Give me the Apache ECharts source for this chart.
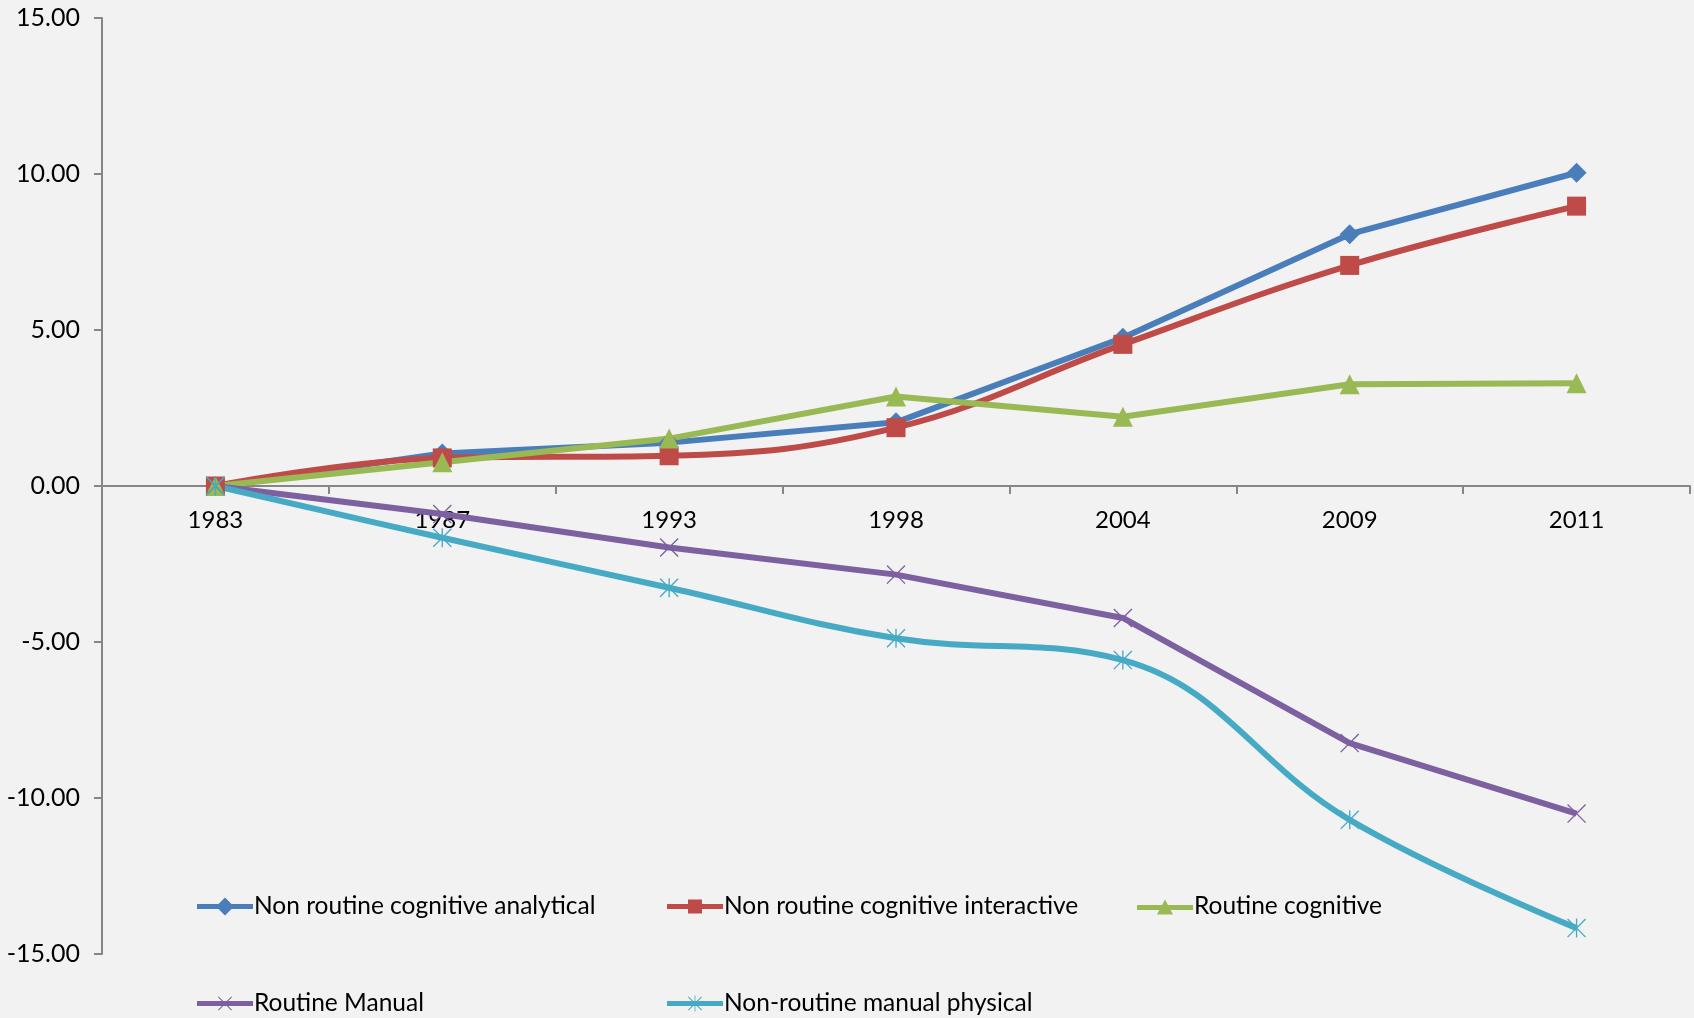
<!DOCTYPE html>
<html>
<head>
<meta charset="utf-8">
<script src="https://cdn.jsdelivr.net/npm/echarts@6/dist/echarts.min.js"></script>
<style>
html,body{margin:0;padding:0;background:#f2f2f2;}
#chart{width:1694px;height:1018px;}
</style>
</head>
<body>
<div id="chart"></div>
<script>
var years = ['1983','1987','1993','1998','2004','2009','2011'];
var seriesNames = ['Non routine cognitive analytical','Non routine cognitive interactive','Routine cognitive','Routine Manual','Non-routine manual physical'];
var analytical = [0, 1.04, 1.39, 2.04, 4.75, 8.07, 10.04];
var interactive = [0, 0.90, 0.97, 1.87, 4.54, 7.07, 8.97];
var routineCognitive = [0, 0.76, 1.52, 2.87, 2.22, 3.26, 3.29];
var routineManual = [0, -0.90, -1.97, -2.84, -4.23, -8.24, -10.50];
var manualPhysical = [0, -1.66, -3.26, -4.88, -5.58, -10.70, -14.17];
var yTicks = {min: -15, max: 15, interval: 5};

var FONT = 'Lato';
var colors = ['#4a7ebb', '#be4b48', '#98b954', '#7d60a0', '#46aac5'];
var xSym = 'path://M0,0.5 L0.5,0 L10,9.5 L9.5,10 Z M9.5,0 L10,0.5 L0.5,10 L0,9.5 Z';
var starSym = 'path://M0,0.5 L0.5,0 L10,9.5 L9.5,10 Z M9.5,0 L10,0.5 L0.5,10 L0,9.5 Z M4.65,0 L5.35,0 L5.35,10 L4.65,10 Z';
var symbols = ['diamond', 'rect', 'triangle', xSym, starSym];
var symSizes = [20, 19, 20, 19, 19];
var smooths = [false, 0.4, false, false, 0.4];
var datas = [analytical, interactive, routineCognitive, routineManual, manualPhysical];

// legend icons: thick line + marker, drawn in a 56x18 box
var bar = 'M0,6.5 L56,6.5 L56,11.5 L0,11.5 Z ';
var xArms = 'M21,2.7 L21.7,2 L35,15.3 L34.3,16 Z M34.3,2 L35,2.7 L21.7,16 L21,15.3 Z ';
var legendIcons = [
  'path://' + bar + 'M28,0 L37,9 L28,18 L19,9 Z',
  'path://' + bar + 'M21,2 L35,2 L35,16 L21,16 Z',
  'path://M0,0 L0.01,0 L0.01,0.01 Z ' + bar + 'M28,1 L36,16 L20,16 Z',
  'path://' + bar + xArms,
  'path://' + bar + xArms + 'M27.6,1 L28.4,1 L28.4,17 L27.6,17 Z'
];

var series = datas.map(function (d, i) {
  return {
    name: seriesNames[i],
    type: 'line',
    data: d,
    smooth: smooths[i],
    symbol: symbols[i],
    symbolSize: symSizes[i],
    showAllSymbol: true,
    lineStyle: {color: colors[i], width: 6},
    itemStyle: {color: colors[i]},
    emphasis: {disabled: true},
    animation: false
  };
});

var legendPos = [
  {left: 197, top: 894},
  {left: 667, top: 894},
  {left: 1137, top: 894},
  {left: 197, top: 991},
  {left: 667, top: 991}
];
var legends = seriesNames.map(function (n, i) {
  return {
    data: [{name: n, icon: legendIcons[i]}],
    left: legendPos[i].left,
    top: legendPos[i].top,
    itemWidth: 56,
    itemHeight: 18,
    itemGap: 0,
    padding: 0,
    selectedMode: false,
    itemStyle: {color: colors[i], borderWidth: 0},
    textStyle: {fontFamily: FONT, fontSize: 24.5, color: '#000', padding: [0, 0, 0, -4]}
  };
});

var chart = echarts.init(document.getElementById('chart'), null, {renderer: 'canvas'});
chart.setOption({
  backgroundColor: '#f2f2f2',
  animation: false,
  color: colors,
  grid: {left: 102, right: 4, top: 18, bottom: 64, containLabel: false},
  legend: legends,
  xAxis: {
    type: 'category',
    data: years,
    boundaryGap: true,
    offset: -468,
    axisLine: {onZero: false, lineStyle: {color: '#868686', width: 2}},
    axisTick: {show: true, interval: 0, length: 8, lineStyle: {color: '#868686', width: 2}},
    axisLabel: {interval: 0, margin: 22, fontFamily: FONT, fontSize: 24, color: '#000'},
    splitLine: {show: false}
  },
  yAxis: {
    type: 'value',
    min: yTicks.min,
    max: yTicks.max,
    interval: yTicks.interval,
    axisLine: {show: true, lineStyle: {color: '#868686', width: 2}},
    axisTick: {show: true, length: 8, lineStyle: {color: '#868686', width: 2}},
    axisLabel: {margin: 22, fontFamily: FONT, fontSize: 25, color: '#000', formatter: function (v) { return v.toFixed(2); }},
    splitLine: {show: false}
  },
  series: series
});
</script>
</body>
</html>
